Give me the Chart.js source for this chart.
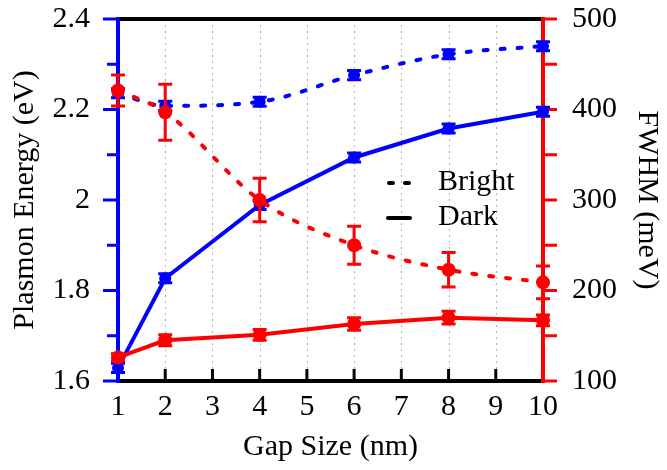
<!DOCTYPE html>
<html>
<head>
<meta charset="utf-8">
<script src="https://cdn.jsdelivr.net/npm/chart.js@4.4.0/dist/chart.umd.min.js"></script>
<style>
    html, body { margin: 0; padding: 0; background: #fff; }
    #wrap { width: 667px; height: 470px; }
</style>
</head>
<body>
<div id="wrap"><canvas id="plasmonChart" width="667" height="470"></canvas></div>
<script>
// 间隙尺寸 (nm)
const gapSizes = [1, 2, 4, 6, 8, 10];

// 等离激元能量 (eV)
const brightEnergy = [2.236, 2.208, 2.217, 2.276, 2.322, 2.340];
const brightEnergyErr = [0.010, 0.010, 0.010, 0.010, 0.010, 0.010];
const darkEnergy = [1.629, 1.827, 1.989, 2.094, 2.158, 2.195];
const darkEnergyErr = [0.010, 0.010, 0.010, 0.010, 0.010, 0.010];

// 半高宽 (meV)
const brightFwhm = [421, 397, 300, 250, 223, 209];
const brightFwhmErr = [17, 31, 24, 21, 19, 18];
const darkFwhm = [126, 145, 151, 163, 170, 167];
const darkFwhmErr = [4, 6, 6, 7, 7, 6];

// 刻度
const gapTicks = [1, 2, 3, 4, 5, 6, 7, 8, 9, 10];

const BLUE = '#0000ff';
const RED = '#ff0000';
const FONT = "'Liberation Serif', 'Times New Roman', serif";

Chart.defaults.font.family = FONT;
Chart.defaults.font.size = 30;
Chart.defaults.color = '#000';

function toPoints(values) {
    return gapSizes.map((g, i) => ({ x: g, y: values[i] }));
}

// 固定坐标轴尺寸，去掉标签引起的额外留白
function fixSize(prop, size) {
    return function(scale) {
        scale[prop] = size;
        scale.paddingTop = 0;
        scale.paddingBottom = 0;
        scale.paddingLeft = 0;
        scale.paddingRight = 0;
    };
}

// 误差棒
const errorBarPlugin = {
    id: 'errorBars',
    afterDatasetDraw(chart, args) {
        const ds = chart.data.datasets[args.index];
        if (!ds.errors) return;
        const ctx = chart.ctx;
        const xScale = chart.scales.x;
        const yScale = chart.scales[ds.yAxisID];
        ctx.save();
        ctx.strokeStyle = ds.borderColor;
        ctx.lineWidth = 3;
        ctx.setLineDash([]);
        ds.data.forEach((p, i) => {
            const err = ds.errors[i];
            const px = xScale.getPixelForValue(p.x);
            const top = yScale.getPixelForValue(p.y + err);
            const bottom = yScale.getPixelForValue(p.y - err);
            ctx.beginPath();
            ctx.moveTo(px, top);
            ctx.lineTo(px, bottom);
            ctx.moveTo(px - 7, top);
            ctx.lineTo(px + 7, top);
            ctx.moveTo(px - 7, bottom);
            ctx.lineTo(px + 7, bottom);
            ctx.stroke();
        });
        ctx.restore();
    }
};

// 坐标框、刻度线和点线网格
const framePlugin = {
    id: 'frame',
    beforeDatasetsDraw(chart) {
        const { ctx, chartArea: { left, right, top, bottom } } = chart;
        const xScale = chart.scales.x;
        const yLeft = chart.scales.y;
        const yRight = chart.scales.y2;
        ctx.save();

        // 竖直点线
        ctx.strokeStyle = '#b4b4b4';
        ctx.lineWidth = 1;
        ctx.setLineDash([2, 4]);
        gapTicks.slice(1, -1).forEach(g => {
            const x = Math.round(xScale.getPixelForValue(g)) + 0.5;
            ctx.beginPath();
            ctx.moveTo(x, top);
            ctx.lineTo(x, bottom);
            ctx.stroke();
        });
        ctx.setLineDash([]);

        // 底部刻度（朝内）
        ctx.strokeStyle = '#000';
        ctx.lineWidth = 3;
        gapTicks.forEach(g => {
            const x = xScale.getPixelForValue(g);
            ctx.beginPath();
            ctx.moveTo(x, bottom);
            ctx.lineTo(x, bottom - 12);
            ctx.stroke();
        });

        // 上下边框
        ctx.lineWidth = 4;
        ctx.beginPath();
        ctx.moveTo(left, top);
        ctx.lineTo(right, top);
        ctx.moveTo(left, bottom);
        ctx.lineTo(right, bottom);
        ctx.stroke();

        // 左轴（能量）
        ctx.strokeStyle = BLUE;
        ctx.beginPath();
        ctx.moveTo(left, top - 2);
        ctx.lineTo(left, bottom + 2);
        ctx.stroke();
        ctx.lineWidth = 3;
        for (let k = 16; k <= 24; k++) {
            const y = yLeft.getPixelForValue(k / 10);
            const len = k % 2 === 0 ? 15 : 11;
            ctx.beginPath();
            ctx.moveTo(left, y);
            ctx.lineTo(left - len, y);
            ctx.stroke();
        }

        // 右轴（半高宽）
        ctx.strokeStyle = RED;
        ctx.lineWidth = 4;
        ctx.beginPath();
        ctx.moveTo(right, top - 2);
        ctx.lineTo(right, bottom + 2);
        ctx.stroke();
        ctx.lineWidth = 3;
        for (let v = 100; v <= 500; v += 50) {
            const y = yRight.getPixelForValue(v);
            ctx.beginPath();
            ctx.moveTo(right, y);
            ctx.lineTo(right + 14, y);
            ctx.stroke();
        }
        ctx.restore();
    }
};

// 线型图例
const lineStyleLegend = {
    id: 'lineStyleLegend',
    afterDraw(chart) {
        const ctx = chart.ctx;
        ctx.save();
        ctx.strokeStyle = '#000';
        ctx.lineWidth = 4;
        ctx.lineCap = 'round';
        ctx.setLineDash([4, 12]);
        ctx.beginPath();
        ctx.moveTo(389, 183);
        ctx.lineTo(409, 183);
        ctx.stroke();
        ctx.setLineDash([]);
        ctx.beginPath();
        ctx.moveTo(388, 218);
        ctx.lineTo(410, 218);
        ctx.stroke();
        ctx.fillStyle = '#000';
        ctx.font = '30px ' + FONT;
        ctx.textAlign = 'left';
        ctx.textBaseline = 'alphabetic';
        ctx.fillText('Bright', 438, 190);
        ctx.fillText('Dark', 438, 225);
        ctx.restore();
    }
};

function initChart() {
    const ctx = document.getElementById('plasmonChart');
    new Chart(ctx, {
        type: 'line',
        data: {
            datasets: [
                {
                    label: 'FWHM Dark',
                    data: toPoints(darkFwhm),
                    errors: darkFwhmErr,
                    yAxisID: 'y2',
                    borderColor: RED,
                    backgroundColor: RED,
                    borderWidth: 4,
                    pointRadius: 7,
                    pointBorderWidth: 0,
                    tension: 0,
                    clip: false
                },
                {
                    label: 'FWHM Bright',
                    data: toPoints(brightFwhm),
                    errors: brightFwhmErr,
                    yAxisID: 'y2',
                    borderColor: RED,
                    backgroundColor: RED,
                    borderWidth: 4,
                    borderDash: [4, 13],
                    borderCapStyle: 'round',
                    pointRadius: 7,
                    pointBorderWidth: 0,
                    cubicInterpolationMode: 'monotone',
                    clip: false
                },
                {
                    label: 'Energy Dark',
                    data: toPoints(darkEnergy),
                    errors: darkEnergyErr,
                    yAxisID: 'y',
                    borderColor: BLUE,
                    backgroundColor: BLUE,
                    borderWidth: 4,
                    pointRadius: 6,
                    pointBorderWidth: 0,
                    tension: 0,
                    clip: false
                },
                {
                    label: 'Energy Bright',
                    data: toPoints(brightEnergy),
                    errors: brightEnergyErr,
                    yAxisID: 'y',
                    borderColor: BLUE,
                    backgroundColor: BLUE,
                    borderWidth: 4,
                    borderDash: [4, 13],
                    borderCapStyle: 'round',
                    pointRadius: 6,
                    pointBorderWidth: 0,
                    cubicInterpolationMode: 'monotone',
                    clip: false
                }
            ]
        },
        options: {
            responsive: false,
            animation: false,
            devicePixelRatio: 1,
            layout: { padding: { top: 19, left: 0, right: 0, bottom: 0 } },
            plugins: {
                legend: { display: false },
                tooltip: { enabled: false }
            },
            scales: {
                x: {
                    type: 'linear',
                    min: 1,
                    max: 10,
                    grid: { display: false, drawTicks: false },
                    border: { display: false },
                    ticks: { stepSize: 1, padding: 8 },
                    title: { display: true, text: 'Gap Size (nm)', padding: { top: 0, bottom: 5 } },
                    afterFit: fixSize('height', 89)
                },
                y: {
                    position: 'left',
                    min: 1.6,
                    max: 2.4,
                    grid: { display: false, drawTicks: false },
                    border: { display: false },
                    ticks: {
                        stepSize: 0.2,
                        padding: 28,
                        callback: value => String(Math.round(value * 10) / 10)
                    },
                    title: { display: true, text: 'Plasmon Energy (eV)', padding: { top: 7, bottom: 0 } },
                    afterFit: fixSize('width', 118)
                },
                y2: {
                    position: 'right',
                    min: 100,
                    max: 500,
                    grid: { display: false, drawTicks: false },
                    border: { display: false },
                    ticks: { stepSize: 100, padding: 29 },
                    title: { display: true, text: 'FWHM (meV)', padding: { top: 2, bottom: 0 } },
                    afterFit: fixSize('width', 124)
                }
            }
        },
        plugins: [framePlugin, errorBarPlugin, lineStyleLegend]
    });
}

initChart();
</script>
</body>
</html>
